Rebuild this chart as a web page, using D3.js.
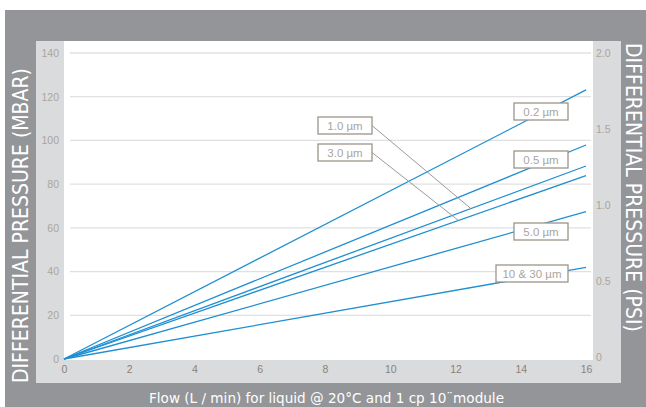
<!DOCTYPE html>
<html><head><meta charset="utf-8">
<script src="https://cdn.jsdelivr.net/npm/d3@7"></script>
<style>html,body{margin:0;padding:0;background:#fff;}svg{display:block;}</style>
</head><body>
<svg id="c" width="646" height="407"></svg>
<script>
// ---- data ----
const seriesNames = ["0.2 µm", "0.5 µm", "1.0 µm", "3.0 µm", "5.0 µm", "10 & 30 µm"];
const flowPoints = [0, 16];                       // L/min
const pressureAt16 = [123.1, 97.9, 88.3, 83.9, 67.4, 41.9]; // mbar at 16 L/min (0 at 0)
const xTicks = [0, 2, 4, 6, 8, 10, 12, 14, 16];
const mbarTicks = [0, 20, 40, 60, 80, 100, 120, 140];
const psiTicks = [0, 0.5, 1.0, 1.5, 2.0];
const leaderFlow = {"1.0 µm": 12.47, "3.0 µm": 12.09};

// ---- layout ----
const svg = d3.select("#c");
const W = 646, H = 407;
const plot = {x0: 64, x1: 593, y0: 41, y1: 360};
const boxes = {
  "0.2 µm": {x: 514, y: 103, w: 54},
  "1.0 µm": {x: 318, y: 117, w: 54},
  "3.0 µm": {x: 318, y: 144, w: 54},
  "0.5 µm": {x: 514, y: 151, w: 54},
  "5.0 µm": {x: 514, y: 223, w: 54},
  "10 & 30 µm": {x: 496, y: 265, w: 72}
};
const boxH = 17;
const blue = "#1f8fd1";
const font = "'Liberation Sans', Arial, sans-serif";
const condFont = "'DejaVu Sans Condensed', 'Liberation Sans Narrow', 'Liberation Sans', sans-serif";

// backgrounds
svg.append("rect").attr("x", 5).attr("y", 10).attr("width", W - 5).attr("height", H - 10).attr("fill", "#939598");
svg.append("rect").attr("x", 36).attr("y", 41).attr("width", 621 - 36).attr("height", 383 - 41).attr("fill", "#dadbdc");
svg.append("rect").attr("x", plot.x0).attr("y", plot.y0).attr("width", plot.x1 - plot.x0).attr("height", plot.y1 - plot.y0).attr("fill", "#ffffff");

// scales
const x = d3.scaleLinear().domain([0, 16]).range([64, 586]);
const y = d3.scaleLinear().domain([0, 140]).range([359, 53]);
const yPsi = d3.scaleLinear().domain([0, 2]).range([357, 53]);

// gridlines
svg.append("g").selectAll("line").data(mbarTicks.filter(d => d > 0)).join("line")
  .attr("x1", 70).attr("x2", 591)
  .attr("y1", d => y(d)).attr("y2", d => y(d))
  .attr("stroke", "#e0e0e0").attr("stroke-width", 1.3);

// axes
function styleAxis(g, color) {
  g.select(".domain").remove();
  g.selectAll("line").remove();
  g.selectAll("text").attr("fill", color).style("font-family", font).style("font-size", "10.5px");
}
svg.append("g").attr("transform", "translate(64,0)")
  .call(d3.axisLeft(y).tickValues(mbarTicks).tickSize(0).tickPadding(5).tickFormat(d3.format("d")))
  .call(g => styleAxis(g, "#aaa59e"));
svg.append("g").attr("transform", "translate(593,0)")
  .call(d3.axisRight(yPsi).tickValues(psiTicks).tickSize(0).tickPadding(3).tickFormat(d => d === 0 ? "0" : d3.format(".1f")(d)))
  .call(g => styleAxis(g, "#aaa59e"));
svg.append("g").attr("transform", "translate(0,359)")
  .call(d3.axisBottom(x).tickValues(xTicks).tickSize(0).tickPadding(7).tickFormat(d3.format("d")))
  .call(g => styleAxis(g, "#8a8279"));

// series lines
const line = d3.line().x(d => x(d[0])).y(d => y(d[1]));
const seriesData = seriesNames.map((n, i) => ({
  name: n,
  pts: flowPoints.map(f => [f, pressureAt16[i] * f / 16])
}));
svg.append("g").selectAll("path").data(seriesData).join("path")
  .attr("d", d => line(d.pts))
  .attr("fill", "none").attr("stroke", blue).attr("stroke-width", 1.3);

// label boxes
const lg = svg.append("g");
seriesData.forEach((s, i) => {
  const b = boxes[s.name];
  lg.append("rect").attr("x", b.x).attr("y", b.y).attr("width", b.w).attr("height", boxH)
    .attr("fill", "#fff").attr("stroke", "#9c9489").attr("stroke-width", 1.3);
  lg.append("text").attr("x", b.x + b.w / 2).attr("y", b.y + boxH / 2 + 4)
    .attr("text-anchor", "middle").attr("fill", "#aaa59e")
    .style("font-family", font).style("font-size", "11.5px").text(s.name);
  if (leaderFlow[s.name] !== undefined) {
    const f = leaderFlow[s.name];
    lg.append("line").attr("x1", b.x + b.w).attr("y1", b.y + boxH / 2)
      .attr("x2", x(f)).attr("y2", y(pressureAt16[i] * f / 16))
      .attr("stroke", "#9a9a9a").attr("stroke-width", 1);
  }
});

// axis titles
svg.append("text").attr("transform", "translate(28,383) rotate(-90)")
  .attr("fill", "#fff").style("font-family", condFont).style("font-size", "21px")
  .attr("textLength", 315).attr("lengthAdjust", "spacingAndGlyphs")
  .text("DIFFERENTIAL PRESSURE (MBAR)");
svg.append("text").attr("transform", "translate(626,43) rotate(90)")
  .attr("fill", "#fff").style("font-family", condFont).style("font-size", "21px")
  .attr("textLength", 289).attr("lengthAdjust", "spacingAndGlyphs")
  .text("DIFFERENTIAL PRESSURE (PSI)");
svg.append("text").attr("x", 149).attr("y", 403)
  .attr("fill", "#fff").style("font-family", condFont).style("font-size", "14.5px")
  .attr("textLength", 355).attr("lengthAdjust", "spacingAndGlyphs")
  .text("Flow (L / min) for liquid @ 20°C and 1 cp 10¨module");
</script>
</body></html>
